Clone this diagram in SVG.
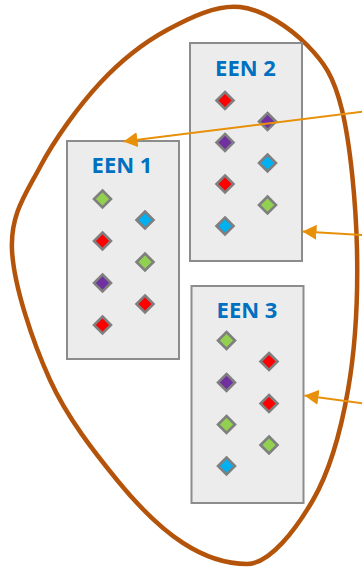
<svg xmlns="http://www.w3.org/2000/svg" xmlns:xlink="http://www.w3.org/1999/xlink" width="362" height="568" viewBox="0 0 362 568">
<style>
.box{fill:#ECECEC;stroke:#8C8C8C;stroke-width:2}
.t{font-family:"Open Sans","Liberation Sans",sans-serif;font-weight:bold;font-size:22px;fill:#0070C0;text-anchor:middle}
.g{fill:#92D050}.b{fill:#00B0F0}.r{fill:#FF0000}.p{fill:#7030A0}
.c{fill:none;stroke:#E8900A;stroke-width:2}
</style>
<defs>
<path id="d" d="M0,-8.5 L8.5,0 L0,8.5 L-8.5,0 Z" stroke="#7F7F7F" stroke-width="2.6"/>
<marker id="ah" markerUnits="userSpaceOnUse" markerWidth="16" markerHeight="16" refX="14" refY="7.5" orient="auto" viewBox="0 0 16 16">
<path d="M0,0 L14,7.5 L0,15 Z" fill="#E8900A"/>
</marker>
</defs>
<path id="blob" d="M240,7 C263.3,9.5 290,27.8 307,45 C324,62.2 333.7,75.8 342,110 C350.3,144.2 356,203.3 357,250 C358,296.7 355.3,348.3 348,390 C340.7,431.7 329.8,471 313,500 C296.2,529 270,564 247,564 C226,564 204.7,557 183,543 C161.3,529 139.2,507.2 117,480 C94.8,452.8 67.5,418.3 50,380 C32.5,341.7 13.7,285.5 12,250 C10.3,214.5 25.3,194.8 40,167 C54.7,139.2 78.8,105.8 100,83 C121.2,60.2 143.7,42.7 167,30 C190.3,17.3 216.7,4.5 240,7 Z" fill="none" stroke="#B3540A" stroke-width="4.5"/>
<g id="een1">
<rect class="box" x="67" y="141" width="112" height="218"/>
<text class="t" x="122" y="173">EEN 1</text>
<use xlink:href="#d" x="102.5" y="199" class="g"/>
<use xlink:href="#d" x="102.5" y="241" class="r"/>
<use xlink:href="#d" x="102.5" y="283" class="p"/>
<use xlink:href="#d" x="102.5" y="325" class="r"/>
<use xlink:href="#d" x="145" y="220" class="b"/>
<use xlink:href="#d" x="145" y="262" class="g"/>
<use xlink:href="#d" x="145" y="304" class="r"/>
</g>
<g id="een2">
<rect class="box" x="190" y="43" width="112" height="218"/>
<text class="t" x="245.5" y="76">EEN 2</text>
<use xlink:href="#d" x="225" y="100.5" class="r"/>
<use xlink:href="#d" x="225" y="142.5" class="p"/>
<use xlink:href="#d" x="225" y="184" class="r"/>
<use xlink:href="#d" x="225" y="226" class="b"/>
<use xlink:href="#d" x="267.5" y="121.5" class="p"/>
<use xlink:href="#d" x="267.5" y="163" class="b"/>
<use xlink:href="#d" x="267.5" y="205" class="g"/>
</g>
<g id="een3">
<rect class="box" x="191.5" y="286" width="112" height="217"/>
<text class="t" x="247" y="318">EEN 3</text>
<use xlink:href="#d" x="226.5" y="340.5" class="g"/>
<use xlink:href="#d" x="226.5" y="382.5" class="p"/>
<use xlink:href="#d" x="226.5" y="424.5" class="g"/>
<use xlink:href="#d" x="226.5" y="466" class="b"/>
<use xlink:href="#d" x="269" y="361.5" class="r"/>
<use xlink:href="#d" x="269" y="403.5" class="r"/>
<use xlink:href="#d" x="269" y="445" class="g"/>
</g>
<g id="connectors">
<line class="c" x1="363" y1="111.6" x2="123.5" y2="141.5" marker-end="url(#ah)"/>
<line class="c" x1="363" y1="235" x2="302.5" y2="231.5" marker-end="url(#ah)"/>
<line class="c" x1="363" y1="403.5" x2="304.5" y2="395.5" marker-end="url(#ah)"/>
</g>
</svg>
